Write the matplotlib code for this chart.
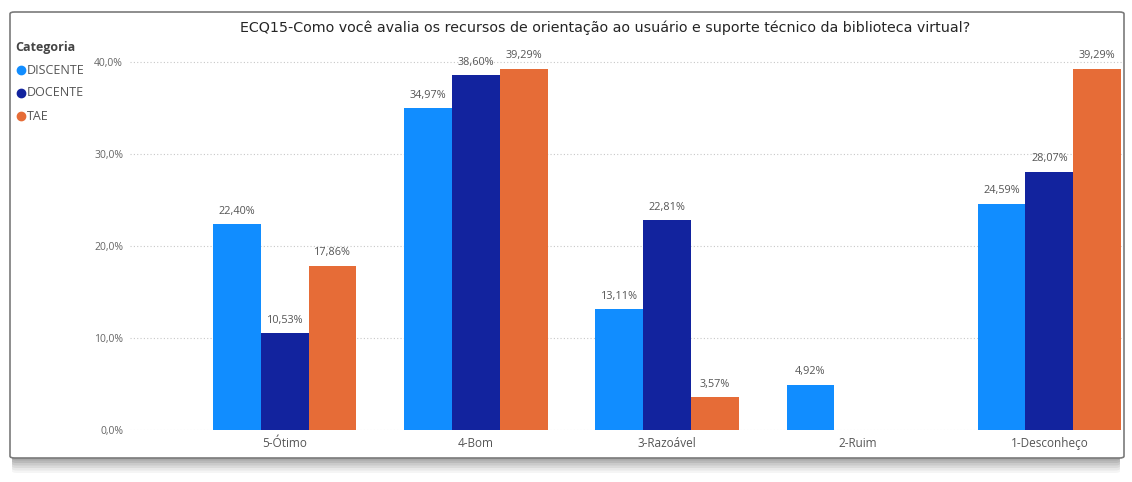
import numpy as np
import matplotlib
matplotlib.use("Agg")
import matplotlib.pyplot as plt
from matplotlib.patches import FancyBboxPatch

plt.rcParams['font.family'] = ['Open Sans', 'DejaVu Sans']

categorias = ['5-Ótimo', '4-Bom', '3-Razoável', '2-Ruim', '1-Desconheço']
series = ['DISCENTE', 'DOCENTE', 'TAE']
discente = [22.40, 34.97, 13.11, 4.92, 24.59]
docente = [10.53, 38.60, 22.81, np.nan, 28.07]
tae = [17.86, 39.29, 3.57, np.nan, 39.29]
cores = ['#118DFF', '#12239E', '#E66C37']
yticks = [0, 10, 20, 30, 40]

W, H = 1132, 482
fig = plt.figure(figsize=(W / 100, H / 100), dpi=100)
fig.patch.set_facecolor('white')

# card frame with shadow
for i, a in enumerate([0.04, 0.05, 0.06, 0.07, 0.08, 0.09]):
    off = (6 - i) * 2.5
    fig.patches.append(FancyBboxPatch((12 / W, (H - 458 - off) / H), (1112 - 4) / W, 440 / H,
                                      boxstyle="round,pad=0,rounding_size=0.004",
                                      transform=fig.transFigure, facecolor='#000000',
                                      edgecolor='none', alpha=a, zorder=0))
fig.patches.append(FancyBboxPatch((10 / W, (H - 458) / H), 1114 / W, 446 / H,
                                  boxstyle="round,pad=0,rounding_size=0.004",
                                  transform=fig.transFigure, facecolor='white',
                                  edgecolor='#7a7a7a', linewidth=1.2, zorder=1))

ax = fig.add_axes([130 / W, 52 / H, 992 / W, 386.4 / H])
ax.set_zorder(2)
ax.patch.set_alpha(0)

x = np.arange(len(categorias))
w = 0.25
for k, (vals, cor) in enumerate(zip([discente, docente, tae], cores)):
    pos = x + (k - 1) * w
    v = np.array(vals, dtype=float)
    ax.bar(pos, v, width=w, color=cor, zorder=3)
    for p, val in zip(pos, v):
        if not np.isnan(val):
            ax.text(p, val + 0.8, f'{val:.2f}%'.replace('.', ','), ha='center', va='bottom',
                    fontsize=7.8, color='#555555', zorder=4)

ax.set_xlim(-0.81, 4.38)
ax.set_ylim(0, 42)
ax.set_yticks(yticks)
ax.set_yticklabels([f'{t:.1f}%'.replace('.', ',') for t in yticks], fontsize=7.5, color='#666666')
ax.set_xticks(x)
ax.set_xticklabels(categorias, fontsize=8.5, color='#555555')
ax.tick_params(length=0, pad=5)
ax.tick_params(axis='y', pad=5)
ax.grid(axis='y', linestyle=(0, (1, 2)), color='#c8c8c8', linewidth=0.8, zorder=0)
for s in ax.spines.values():
    s.set_visible(False)

fig.text(605 / W, 1 - 28 / H, 'ECQ15-Como você avalia os recursos de orientação ao usuário e suporte técnico da biblioteca virtual?',
         ha='center', va='center', fontsize=10.3, color='#252525', family='DejaVu Sans', zorder=5)

# legend
fig.text(15 / W, 1 - 47 / H, 'Categoria', ha='left', va='center', fontsize=9,
         fontweight='bold', color='#444444', zorder=5)
for i, (nome, cor) in enumerate(zip(series, cores)):
    yy = 1 - (70 + i * 23) / H
    fig.lines.append(plt.Line2D([21 / W], [yy], marker='o', markersize=6, color=cor,
                                transform=fig.transFigure, zorder=5))
    fig.text(27 / W, yy, nome, ha='left', va='center', fontsize=9, color='#555555', zorder=5)

fig.savefig('out.png', dpi=100)
